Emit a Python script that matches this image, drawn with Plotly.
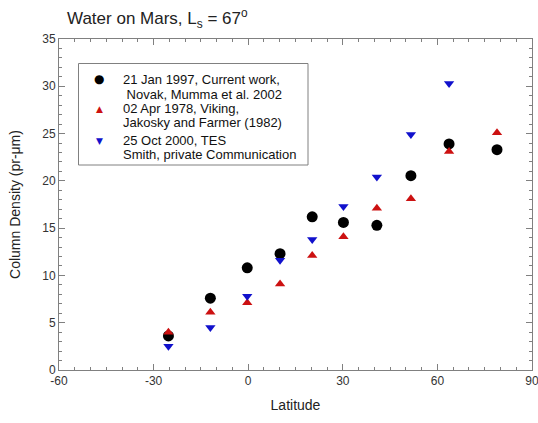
import plotly.graph_objects as go

lat_current = [-25.3, -12.0, -0.3, 10.1, 20.3, 30.2, 40.8, 51.6, 63.7, 78.9]
val_current = [3.6, 7.6, 10.8, 12.3, 16.2, 15.6, 15.3, 20.55, 23.9, 23.3]

lat_viking = [-25.3, -12.0, -0.3, 10.1, 20.3, 30.2, 40.8, 51.6, 63.7, 78.9]
val_viking = [4.0, 6.1, 7.1, 9.1, 12.1, 14.1, 17.1, 18.1, 23.1, 25.1]

lat_tes = [-25.3, -12.0, -0.3, 10.1, 20.3, 30.2, 40.8, 51.6, 63.7]
val_tes = [2.5, 4.5, 7.8, 11.6, 13.8, 17.3, 20.4, 24.9, 30.3]

series_names = ["21 Jan 1997, Current work,", "02 Apr 1978, Viking,", "25 Oct 2000, TES"]
series_refs = ["\u00a0Novak, Mumma et al. 2002", "Jakosky and Farmer (1982)",
               "Smith, private Communication"]
series_colors = ["black", "#cc1111", "#1111cc"]
series_symbols = ["circle", "triangle-up", "triangle-down"]
legend_glyphs = ["\u25cf", "\u25b2", "\u25bc"]

x_ticks = [-60, -30, 0, 30, 60, 90]
x_ticktext = ["-60", "-30", "0", "30", "60", "90"]
y_ticks = [0, 5, 10, 15, 20, 25, 30, 35]

FONT = "Liberation Sans, Arial, sans-serif"
W, H = 538, 423
L, R, T, B = 59, 6, 39, 53
PW, PH = W - L - R, H - T - B


def px(xp):
    return (xp - L) / PW


def py(yp):
    return (H - B - yp) / PH


fig = go.Figure()
for xs, ys, nm, col, sym, sz in [
    (lat_current, val_current, series_names[0], series_colors[0], series_symbols[0], 11),
    (lat_viking, val_viking, series_names[1], series_colors[1], series_symbols[1], 9),
    (lat_tes, val_tes, series_names[2], series_colors[2], series_symbols[2], 9),
]:
    fig.add_trace(go.Scatter(x=xs, y=ys, mode="markers", name=nm, showlegend=False,
                             marker=dict(symbol=sym, size=sz, color=col, line=dict(width=0))))

axis_common = dict(
    showgrid=False, zeroline=False, showline=True, linecolor="#808080", linewidth=1,
    mirror="ticks", ticks="inside", ticklen=6, tickcolor="#808080", tickwidth=1,
    tickfont=dict(family=FONT, size=12, color="#333333"), automargin=False,
    ticklabeloverflow="allow",
)

fig.update_xaxes(range=[-60, 90], tickvals=x_ticks, ticktext=x_ticktext,
                 minor=dict(ticks="inside", dtick=5, ticklen=3, tickcolor="#808080"),
                 title=dict(text="Latitude", font=dict(family=FONT, size=14, color="#222222"), standoff=12),
                 **axis_common)
fig.update_yaxes(range=[0, 35], tickvals=y_ticks,
                 minor=dict(ticks="inside", dtick=1, ticklen=3, tickcolor="#808080"),
                 title=dict(text="Column Density (pr-\u03bcm)", font=dict(family=FONT, size=14, color="#222222"), standoff=18),
                 **axis_common)

# manual legend box
fig.add_shape(type="rect", xref="paper", yref="paper",
              x0=px(78.5), x1=px(308), y0=py(165), y1=py(63.5),
              line=dict(color="#808080", width=1), fillcolor="white", layer="above")

line_y = [79.8, 94.3, 108.7, 122.7, 140.7, 154.7]
glyph_y = [78.7, 109.0, 140.7]
glyph_sizes = [12, 9, 9]
for i in range(3):
    fig.add_annotation(text=series_names[i], xref="paper", yref="paper",
                       x=px(121), y=py(line_y[2 * i]), xanchor="left", yanchor="middle",
                       showarrow=False, font=dict(family=FONT, size=13, color="#111111"))
    fig.add_annotation(text=series_refs[i], xref="paper", yref="paper",
                       x=px(121), y=py(line_y[2 * i + 1]), xanchor="left", yanchor="middle",
                       showarrow=False, font=dict(family=FONT, size=13, color="#111111"))
    fig.add_annotation(text=legend_glyphs[i], xref="paper", yref="paper",
                       x=px(99), y=py(glyph_y[i]), xanchor="center", yanchor="middle",
                       showarrow=False,
                       font=dict(family="DejaVu Sans", size=glyph_sizes[i], color=series_colors[i]))

fig.update_layout(
    width=W, height=H,
    margin=dict(l=L, r=R, t=T, b=B),
    paper_bgcolor="white", plot_bgcolor="white",
    title=dict(text="Water on Mars, L<sub>s</sub> = 67<sup>o</sup>", x=67 / W, xanchor="left",
               y=1 - 18 / H, yanchor="middle",
               font=dict(family=FONT, size=17, color="#222222")),
    showlegend=False,
)

fig.write_html("out.html", config={"displayModeBar": False},
               post_script="document.body.style.margin='0';document.body.style.overflow='hidden';")
